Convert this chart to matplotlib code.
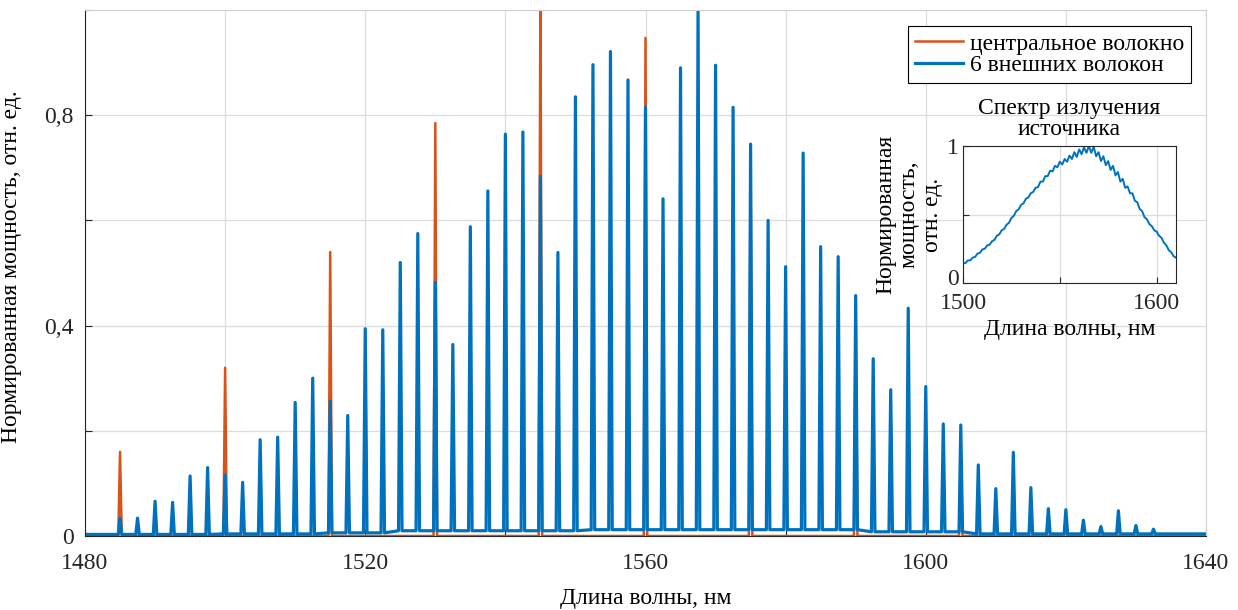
import matplotlib
matplotlib.use('Agg')
import matplotlib.pyplot as plt
import matplotlib.transforms as mtransforms
import numpy as np

plt.rcParams['font.family'] = ['Liberation Serif', 'DejaVu Serif']

# comb peaks of the 6 outer fibers (nm) and their heights
blue_wl = [1485 + 2.5 * k for k in range(60)]
blue_h = [0.034, 0.034, 0.066, 0.064, 0.114, 0.130, 0.116, 0.102, 0.183, 0.188,
          0.254, 0.300, 0.256, 0.229, 0.394, 0.392, 0.520, 0.575, 0.482, 0.364,
          0.588, 0.656, 0.764, 0.768, 0.684, 0.539, 0.835, 0.896, 0.921, 0.867,
          0.815, 0.641, 0.890, 1.000, 0.895, 0.815, 0.745, 0.600, 0.512, 0.728,
          0.550, 0.531, 0.457, 0.337, 0.278, 0.433, 0.284, 0.213, 0.211, 0.135,
          0.090, 0.159, 0.092, 0.052, 0.050, 0.030, 0.018, 0.048, 0.020, 0.013]
blue_floor = [0.003] * 6 + [0.004] * 6 + [0.006] * 4 + [0.010] * 11 + \
             [0.012] * 16 + [0.008] * 6 + [0.004] * 11

# central fiber peaks
orange_wl = [1485, 1500, 1515, 1530, 1545, 1560, 1575, 1590, 1605, 1620]
orange_h = [0.16, 0.32, 0.54, 0.785, 1.05, 0.947, 0.71, 0.42, 0.145, 0.027]

# source spectrum (inset): comb maxima and the dips between them
inset_hi_wl = [1500 + 2.5 * k for k in range(45)]
inset_hi = [0.145, 0.165, 0.185, 0.215, 0.245, 0.275, 0.305, 0.345, 0.385, 0.425,
            0.475, 0.525, 0.570, 0.615, 0.655, 0.695, 0.740, 0.780, 0.820, 0.855,
            0.885, 0.905, 0.930, 0.955, 0.975, 0.990, 1.000, 0.995, 0.955, 0.925,
            0.890, 0.855, 0.810, 0.760, 0.705, 0.655, 0.590, 0.525, 0.465, 0.415,
            0.375, 0.330, 0.275, 0.225, 0.185]
inset_lo_wl = [1501.25 + 2.5 * k for k in range(44)]
inset_lo = [0.145, 0.165, 0.190, 0.220, 0.250, 0.280, 0.315, 0.355, 0.395, 0.440,
            0.490, 0.538, 0.582, 0.625, 0.665, 0.700, 0.740, 0.780, 0.815, 0.845,
            0.865, 0.885, 0.905, 0.920, 0.940, 0.950, 0.950, 0.925, 0.890, 0.860,
            0.825, 0.785, 0.740, 0.695, 0.655, 0.600, 0.540, 0.480, 0.430, 0.385,
            0.345, 0.295, 0.240, 0.195]

BLUE = '#0072BD'
ORANGE = '#D95319'


def spike_trace(centers, heights, floors, x0, x1, hw=0.25):
    xs = [x0]
    ys = [floors[0]]
    for c, h, f in zip(centers, heights, floors):
        xs += [c - hw, c, c + hw]
        ys += [f, h, f]
    xs.append(x1)
    ys.append(floors[-1])
    return xs, ys


fig = plt.figure(figsize=(12.38, 6.10), dpi=100)
ax = fig.add_axes([85 / 1238, 74 / 610, 1121 / 1238, 526 / 610])

ox, oy = spike_trace(orange_wl, orange_h, [0.0] * len(orange_wl), 1480, 1640)
bx, by = spike_trace(blue_wl, blue_h, blue_floor, 1480, 1640)
ax.plot(ox, oy, color=ORANGE, lw=1.8, label='центральное волокно')
ax.plot(bx, by, color=BLUE, lw=2.3, label='6 внешних волокон')

ax.set_xlim(1480, 1640)
ax.set_ylim(0, 1)
ax.set_xticks(np.arange(1480, 1641, 20))
ax.set_xticklabels(['1480', '', '1520', '', '1560', '', '1600', '', '1640'])
ax.set_yticks(np.arange(0, 1.01, 0.2))
ax.set_yticklabels(['0', '', '0,4', '', '0,8', ''])
ax.grid(True, color='#dcdcdc', lw=0.9)
ax.set_axisbelow(True)
ax.tick_params(direction='in', length=5, width=0.8, labelsize=17, colors='#262626')
ax.tick_params(axis='x', pad=12)
ax.tick_params(axis='y', pad=8)
for s in ['left', 'bottom']:
    ax.spines[s].set_color('#262626')
for s in ['top', 'right']:
    ax.spines[s].set_color('#d0d0d0')
ax.set_xlabel('Длина волны, нм', fontsize=17, labelpad=10)
ax.set_ylabel('Нормированная мощность, отн. ед.', fontsize=17)
ax.yaxis.set_label_coords(-0.056, 0.512)

leg = ax.legend(loc='upper right', bbox_to_anchor=(0.9866, 0.9696), borderaxespad=0,
                fontsize=17, fancybox=False, edgecolor='black', framealpha=1,
                handlelength=2.0, handletextpad=0.3, labelspacing=0.0, borderpad=0.3)
leg.get_frame().set_linewidth(0.8)

# inset with the source spectrum
ins = fig.add_axes([963 / 1238, 327 / 610, 213 / 1238, 137 / 610])
ix = []
iy = []
for k in range(len(inset_hi_wl)):
    ix.append(inset_hi_wl[k])
    iy.append(inset_hi[k])
    if k < len(inset_lo_wl):
        ix.append(inset_lo_wl[k])
        iy.append(inset_lo[k])
ins.plot(ix, iy, color=BLUE, lw=1.4)
ins.set_xlim(1500, 1610)
ins.set_ylim(0, 1)
ins.set_xticks([1500, 1550, 1600])
ins.set_xticklabels(['1500', '', '1600'])
ins.set_yticks([0, 0.5, 1])
ins.set_yticklabels(['0', '', '1'])
ins.grid(True, color='#dcdcdc', lw=0.9)
ins.set_axisbelow(True)
ins.tick_params(direction='in', length=4, width=0.8, labelsize=17, colors='#262626')
ins.tick_params(axis='x', pad=7)
ins.tick_params(axis='y', pad=3)
for s in ins.spines.values():
    s.set_color('#262626')
# lift the "0" a little so it clears "1500"
zero_lbl = ins.get_yticklabels()[0]
zero_lbl.set_transform(zero_lbl.get_transform() +
                       mtransforms.ScaledTranslation(0, 6 / 100, fig.dpi_scale_trans))
ins.set_title('Спектр излучения\nисточника', fontsize=17, pad=8, linespacing=1.0)
ins.set_xlabel('Длина волны, нм', fontsize=17, labelpad=4)
ins.set_ylabel('Нормированная\nмощность,\nотн. ед.', fontsize=17, labelpad=3, linespacing=1.15)

fig.savefig('out.png', dpi=100)
